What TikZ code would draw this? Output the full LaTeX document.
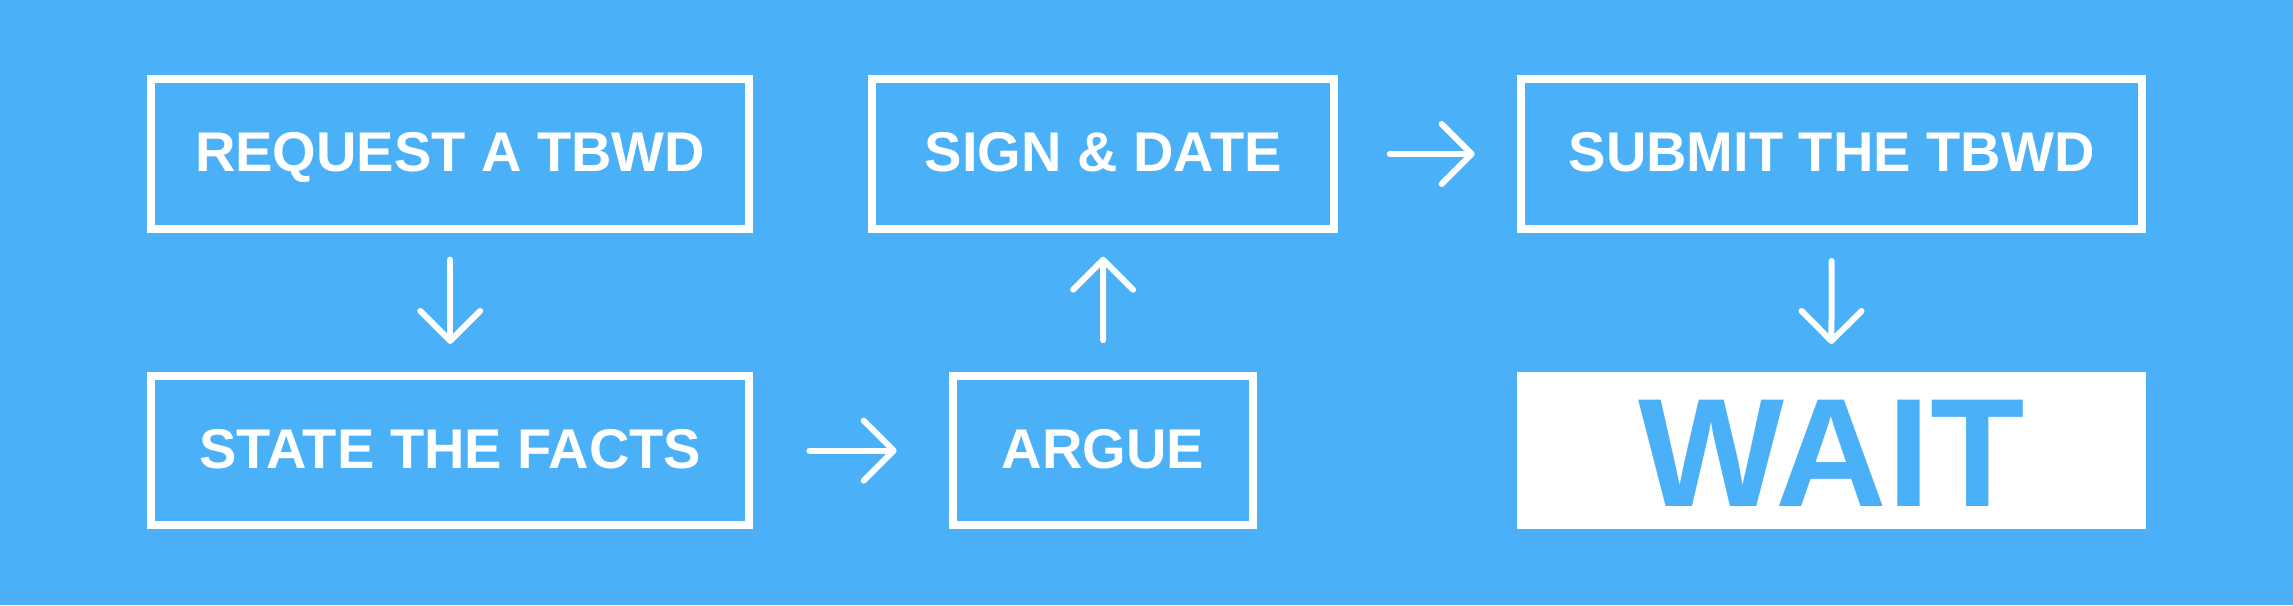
\documentclass[tikz,border=0pt]{standalone}
\usepackage{fontspec}
\setmainfont{Liberation Sans}
\usetikzlibrary{arrows.meta}
\definecolor{bg}{HTML}{4AB0F7}
\begin{document}
\begin{tikzpicture}[x=1pt,y=1pt,
  stepbox/.style={draw=white, line width=8pt, minimum width=#1, minimum height=149.4pt,
    inner sep=0pt, text=white, font=\fontsize{56}{60}\selectfont\bfseries,
    text height=40.1pt, text depth=4.7pt},
  waitbox/.style={fill=white, draw=none, minimum width=629.2pt, minimum height=157.3pt,
    inner sep=0pt, outer sep=0pt, text=bg, font=\fontsize{154.6}{160}\selectfont\bfseries,
    text height=110.7pt, text depth=0pt},
  arr/.style={draw=white, line width=6pt, line cap=round, line join=round,
    -{Straight Barb[length=30pt, width=60pt, round]}}
]
\fill[bg] (0,0) rectangle (2293,605);
\useasboundingbox (0,0) rectangle (2293,605);

\node[stepbox=597.7pt] (req) at (450.2,451) {REQUEST A TBWD};
\node[stepbox=462.3pt] (sign) at (1103.2,451) {SIGN \& DATE};
\node[stepbox=620.7pt] (submit) at (1831.6,451) {SUBMIT THE TBWD};
\node[stepbox=597.7pt] (facts) at (450.2,154.35) {STATE THE FACTS};
\node[stepbox=299.4pt] (argue) at (1103,154.35) {ARGUE};
\node[waitbox] (wait) at (1831.4,154.35) {WAIT};

\draw[arr, shorten <=27pt, shorten >=28pt] (req.south) -- (facts.north);
\draw[arr, shorten <=56.3pt, shorten >=52.6pt] (facts.east) -- (argue.west);
\draw[arr, shorten <=31.7pt, shorten >=24pt] (argue.north) -- (sign.south);
\draw[arr, shorten <=51.4pt, shorten >=42.6pt] (sign.east) -- (submit.west);
\draw[arr, shorten <=28.3pt, shorten >=28pt] (submit.south) -- (wait.north);
\end{tikzpicture}
\end{document}
